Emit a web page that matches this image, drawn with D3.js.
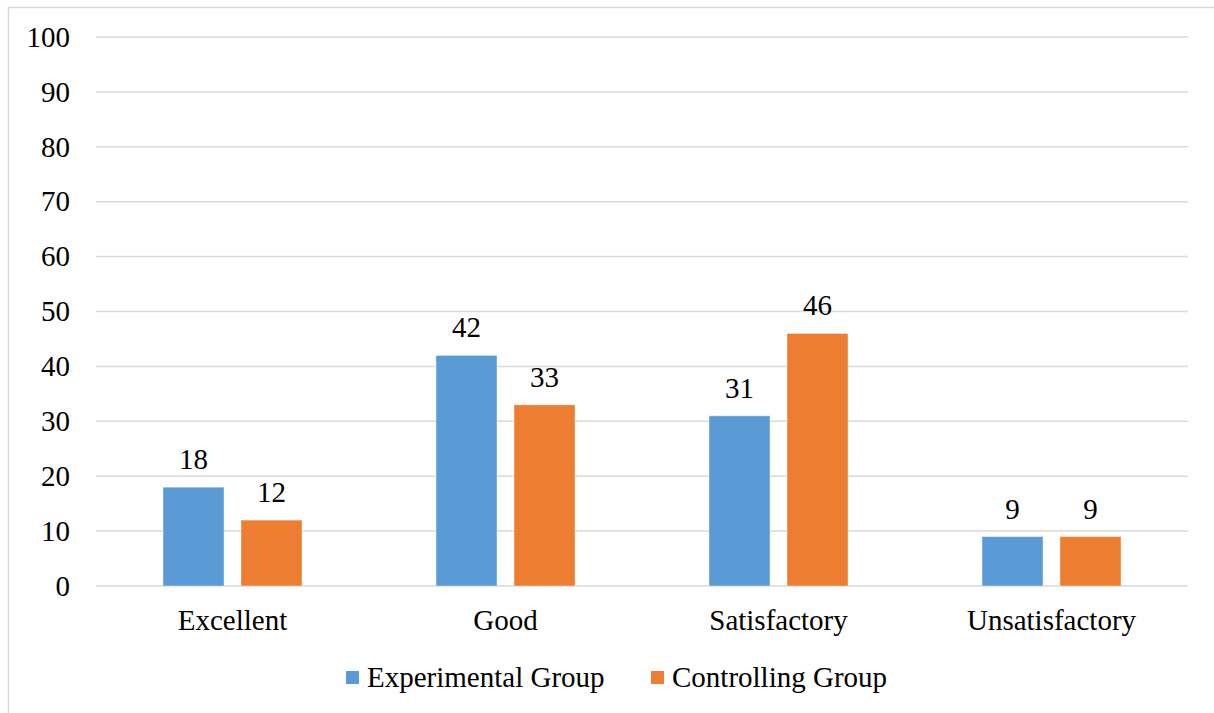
<!DOCTYPE html>
<html>
<head>
<meta charset="utf-8">
<script src="https://cdn.jsdelivr.net/npm/d3@7"></script>
<style>
  body { margin: 0; background: #fff; }
  svg text { font-family: "Liberation Serif", "Times New Roman", serif !important; fill: #000; }
</style>
</head>
<body>
<div id="chart"></div>
<script>
// chart data
var categories = ['Excellent', 'Good', 'Satisfactory', 'Unsatisfactory'];
var seriesNames = ['Experimental Group', 'Controlling Group'];
var experimental = [18, 42, 31, 9];
var controlling = [12, 33, 46, 9];
var yTicks = [0, 10, 20, 30, 40, 50, 60, 70, 80, 90, 100];

var colors = ['#5B9BD5', '#ED7D31'];
var W = 1214, H = 713;
var plotLeft = 96, plotRight = 1188, plotTop = 37, plotBottom = 586;
var fontSize = '29px';
var serif = '"Liberation Serif", "Times New Roman", serif';

var svg = d3.select('#chart').append('svg')
    .attr('width', W)
    .attr('height', H)
    .attr('font-family', serif);

// outer frame
svg.append('rect')
    .attr('x', 8.5).attr('y', 7.5)
    .attr('width', W + 10).attr('height', H + 10)
    .style('fill', 'none')
    .style('stroke', '#d9d9d9')
    .style('stroke-width', 1.5);

var x = d3.scaleBand().domain(categories).range([plotLeft, plotRight]);
var inner = d3.scaleBand().domain(seriesNames)
    .range([67, x.bandwidth() - 67]).paddingInner(0.218);
var y = d3.scaleLinear().domain([0, 100]).range([plotBottom, plotTop]);

// gridlines
svg.append('g').selectAll('line')
    .data(yTicks)
    .join('line')
    .attr('x1', plotLeft).attr('x2', plotRight)
    .attr('y1', d => y(d)).attr('y2', d => y(d))
    .style('stroke', '#d9d9d9')
    .style('stroke-width', 1.5);

// y axis labels
var yAxis = svg.append('g')
    .attr('transform', `translate(${plotLeft}, 0)`)
    .call(d3.axisLeft(y).tickValues(yTicks).tickSize(0).tickPadding(26))
    .attr('font-family', serif);
yAxis.select('.domain').remove();
yAxis.selectAll('text')
    .style('font-family', serif)
    .style('font-size', fontSize)
    .style('fill', '#000');

// x axis labels
var xAxis = svg.append('g')
    .attr('transform', `translate(0, ${plotBottom})`)
    .call(d3.axisBottom(x).tickSize(0).tickPadding(23))
    .attr('font-family', serif);
xAxis.select('.domain').remove();
xAxis.selectAll('text')
    .style('font-family', serif)
    .style('font-size', fontSize)
    .style('fill', '#000');

var values = [experimental, controlling];
var rows = [];
categories.forEach((c, i) => {
    seriesNames.forEach((s, j) => {
        rows.push({ cat: c, series: s, value: values[j][i], idx: j });
    });
});

var bars = svg.append('g');
bars.selectAll('rect')
    .data(rows)
    .join('rect')
    .attr('x', d => x(d.cat) + inner(d.series))
    .attr('width', inner.bandwidth())
    .attr('y', d => y(d.value))
    .attr('height', d => y(0) - y(d.value))
    .style('fill', d => colors[d.idx])
    .style('stroke', '#fff')
    .style('stroke-opacity', 0.4)
    .style('stroke-width', 1);

bars.selectAll('text')
    .data(rows)
    .join('text')
    .attr('x', d => x(d.cat) + inner(d.series) + inner.bandwidth() / 2)
    .attr('y', d => y(d.value) - 18)
    .style('text-anchor', 'middle')
    .style('font-family', serif)
    .style('font-size', fontSize)
    .text(d => d.value);

// legend
var legendX = [346, 651];
var legend = svg.append('g');
seriesNames.forEach((s, j) => {
    legend.append('rect')
        .attr('x', legendX[j]).attr('y', 671)
        .attr('width', 13).attr('height', 13)
        .style('fill', colors[j]);
    legend.append('text')
        .attr('x', legendX[j] + 21).attr('y', 687)
        .style('font-family', serif)
        .style('font-size', fontSize)
        .text(s);
});
</script>
</body>
</html>
